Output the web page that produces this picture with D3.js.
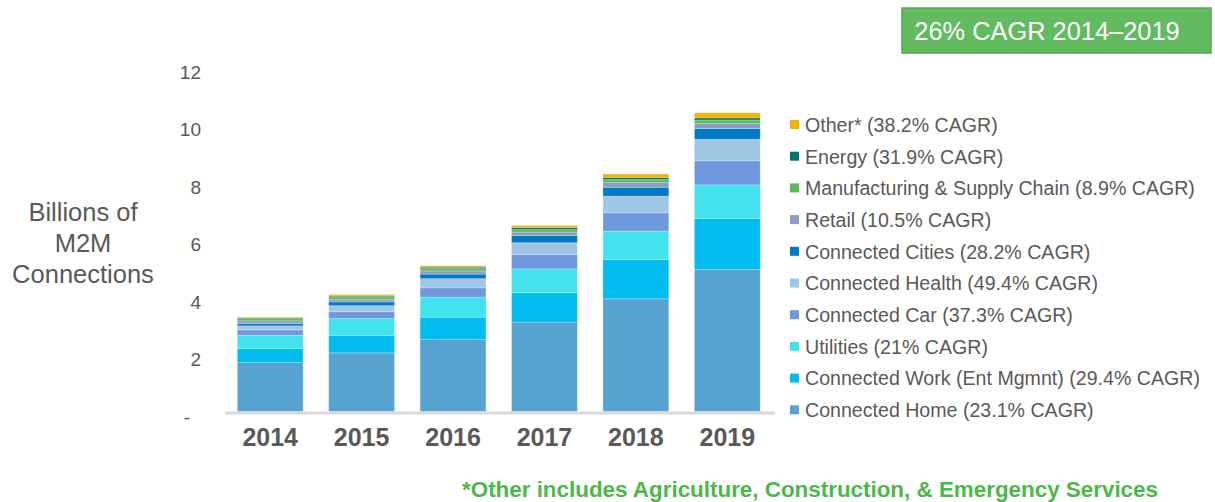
<!DOCTYPE html>
<html>
<head>
<meta charset="utf-8">
<script src="https://cdn.jsdelivr.net/npm/d3@7"></script>
<style>
  body { margin: 0; background: #fff; }
  svg { font-family: "Liberation Sans", Arial, sans-serif; }
</style>
</head>
<body>
<svg class="chart" width="1215" height="502"></svg>
<script>
// data (billions of connections)
var years = ["2014", "2015", "2016", "2017", "2018", "2019"];
var connectedHome   = [1.70, 2.04, 2.50, 3.11, 3.92, 4.94];
var connectedWork   = [0.49, 0.61, 0.78, 1.02, 1.36, 1.78];
var utilities       = [0.46, 0.58, 0.70, 0.83, 0.99, 1.16];
var connectedCar    = [0.19, 0.24, 0.32, 0.50, 0.64, 0.84];
var connectedHealth = [0.14, 0.21, 0.32, 0.41, 0.58, 0.75];
var connectedCities = [0.08, 0.13, 0.16, 0.25, 0.31, 0.37];
var retail          = [0.09, 0.08, 0.11, 0.12, 0.16, 0.18];
var manufacturing   = [0.08, 0.10, 0.08, 0.09, 0.11, 0.12];
var energy          = [0.03, 0.03, 0.05, 0.07, 0.07, 0.07];
var other           = [0.03, 0.05, 0.05, 0.07, 0.12, 0.18];

var seriesNames = [
    "Connected Home (23.1% CAGR)",
    "Connected Work (Ent Mgmnt) (29.4% CAGR)",
    "Utilities (21% CAGR)",
    "Connected Car (37.3% CAGR)",
    "Connected Health (49.4% CAGR)",
    "Connected Cities (28.2% CAGR)",
    "Retail (10.5% CAGR)",
    "Manufacturing & Supply Chain (8.9% CAGR)",
    "Energy (31.9% CAGR)",
    "Other* (38.2% CAGR)"
];
var seriesValues = [connectedHome, connectedWork, utilities, connectedCar, connectedHealth,
    connectedCities, retail, manufacturing, energy, other];
var yTicks = [0, 2, 4, 6, 8, 10, 12];

var colors = ["#56a3d1", "#00bcef", "#42e3ef", "#6f98de", "#9fc6e3",
    "#0079c6", "#8f9cc4", "#5cba5a", "#00716d", "#efb400"];
var textColor = "#595959";

var svg = d3.select(".chart");

// rows for d3.stack
var rows = years.map(function(yr, i){
    var r = { year: yr };
    seriesNames.forEach(function(n, k){ r[n] = seriesValues[k][i]; });
    return r;
});
var stacked = d3.stack().keys(seriesNames)(rows);

var x = d3.scaleBand().domain(years).range([224.5, 773]).paddingInner(0.28).paddingOuter(0.14);
var y = d3.scaleLinear().domain([0, 12]).range([411.5, 66.5]);

// bars
svg.append("g").selectAll("g")
    .data(stacked)
    .enter().append("g")
    .attr("fill", function(d, i){ return colors[i]; })
    .selectAll("rect")
    .data(function(d){ return d; })
    .enter().append("rect")
    .attr("x", function(d){ return x(d.data.year); })
    .attr("width", x.bandwidth())
    .attr("y", function(d){ return y(d[1]); })
    .attr("height", function(d){ return y(d[0]) - y(d[1]); })
    .attr("stroke", "#ffffff")
    .attr("stroke-opacity", 0.3)
    .attr("stroke-width", 0.8);

// x axis
var xAxis = svg.append("g")
    .attr("transform", "translate(0," + y(0) + ")")
    .call(d3.axisBottom(x).tickSize(0).tickPadding(17));
xAxis.select(".domain").remove();
xAxis.append("line")
    .attr("x1", 225).attr("x2", 775)
    .attr("y1", 1.5).attr("y2", 1.5)
    .attr("stroke", "#d9d9d9").attr("stroke-width", 3);
xAxis.selectAll("text")
    .attr("fill", textColor)
    .style("font-size", "25px")
    .style("font-weight", "bold")
    .style("font-family", "'Liberation Sans', Arial, sans-serif");

// y axis
var yAxis = svg.append("g")
    .attr("transform", "translate(201,0)")
    .call(d3.axisLeft(y).tickValues(yTicks).tickSize(0).tickPadding(0)
        .tickFormat(function(d){ return d === 0 ? "-" : d; }));
yAxis.select(".domain").remove();
yAxis.selectAll("text")
    .attr("fill", textColor)
    .attr("dy", "0.62em")
    .style("font-size", "19px")
    .style("font-family", "'Liberation Sans', Arial, sans-serif");
yAxis.selectAll("text").filter(function(d){ return d === 0; }).attr("dx", -11);

// y title
var titleLines = ["Billions of", "M2M", "Connections"];
svg.append("g").selectAll("text")
    .data(titleLines)
    .enter().append("text")
    .attr("x", 83)
    .attr("y", function(d, i){ return 221 + i * 31; })
    .attr("text-anchor", "middle")
    .attr("fill", textColor)
    .style("font-size", "25.5px")
    .text(function(d){ return d; });

// legend (top item first)
var legend = svg.append("g").selectAll("g")
    .data(seriesNames.slice().reverse())
    .enter().append("g")
    .attr("transform", function(d, i){ return "translate(790," + (125 + i * 31.7) + ")"; });
legend.append("rect")
    .attr("x", 0).attr("y", -5).attr("width", 9).attr("height", 9)
    .attr("fill", function(d, i){ return colors[colors.length - 1 - i]; });
legend.append("text")
    .attr("x", 15).attr("y", 0).attr("dy", "0.35em")
    .attr("fill", textColor)
    .style("font-size", "19.6px")
    .text(function(d){ return d; });

// CAGR box
svg.append("rect")
    .attr("x", 902).attr("y", 8).attr("width", 309).attr("height", 45)
    .attr("fill", "#62bb5f").attr("stroke", "#57a754").attr("stroke-width", 1.5);
svg.append("text")
    .attr("x", 1047).attr("y", 31).attr("dy", "0.35em")
    .attr("text-anchor", "middle")
    .attr("fill", "#ffffff")
    .style("font-size", "25.4px")
    .text("26% CAGR 2014\u20132019");

// footnote
svg.append("text")
    .attr("x", 462).attr("y", 489).attr("dy", "0.35em")
    .attr("fill", "#4cb848")
    .style("font-size", "22.4px")
    .style("font-weight", "bold")
    .text("*Other includes Agriculture, Construction, & Emergency Services");
</script>
</body>
</html>
